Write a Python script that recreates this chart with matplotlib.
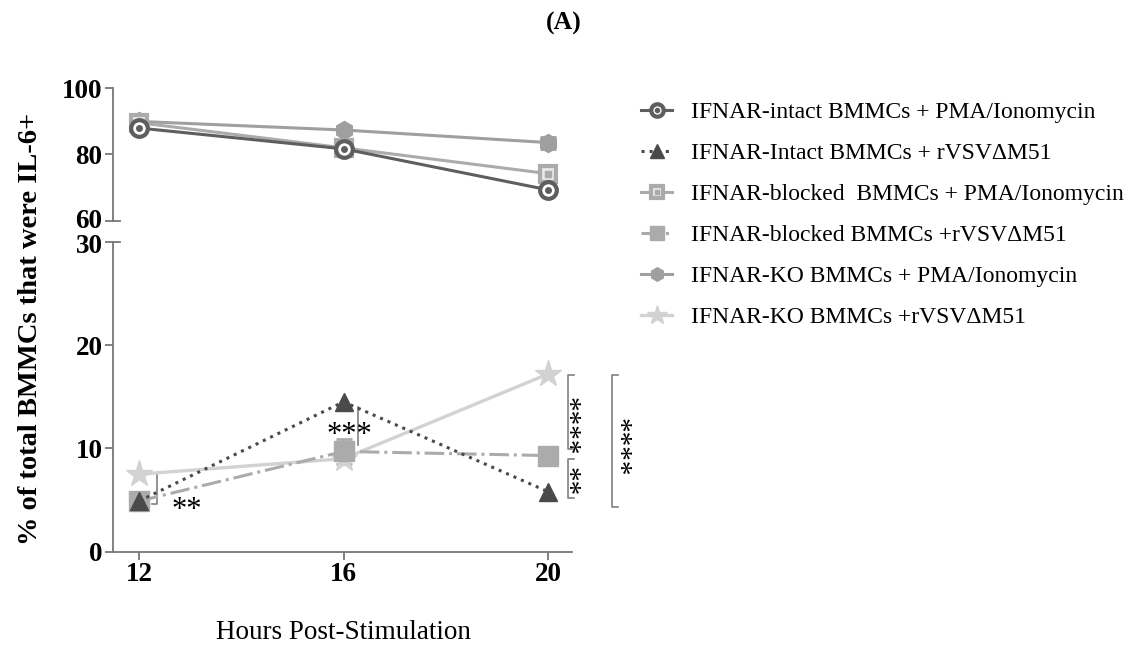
import matplotlib
matplotlib.use("Agg")
import matplotlib.pyplot as plt
import matplotlib.transforms as mtransforms
from matplotlib.legend_handler import HandlerTuple

plt.rcParams['font.family'] = ['Liberation Serif', 'DejaVu Serif']

hours = [12, 16, 20]

intact_pma = [88.0, 81.7, 69.3]
blocked_pma = [89.6, 82.0, 74.2]
ko_pma = [90.0, 87.4, 83.6]
ko_pma_err = [0.5, 0.5, 1.8]

intact_vsv = [4.9, 14.5, 5.8]
blocked_vsv = [4.9, 9.7, 9.3]
blocked_vsv_err = [0.3, 1.2, 0.2]
ko_vsv = [7.5, 9.0, 17.2]

labels = [
    "IFNAR-intact BMMCs + PMA/Ionomycin",
    "IFNAR-Intact BMMCs + rVSVΔM51",
    "IFNAR-blocked  BMMCs + PMA/Ionomycin",
    "IFNAR-blocked BMMCs +rVSVΔM51",
    "IFNAR-KO BMMCs + PMA/Ionomycin",
    "IFNAR-KO BMMCs +rVSVΔM51",
]

c_dark = '#5e5e5e'
c_tri = '#4a4a4a'
c_light = '#ababab'
c_ko = '#9f9f9f'
c_star = '#d2d2d2'

fig = plt.figure(figsize=(11.33, 6.45), dpi=100)
L, R = 0.0997, 0.505
ax_top = fig.add_axes([L, 0.658, R - L, 0.205])
ax_bot = fig.add_axes([L, 0.1447, R - L, 0.4806])

xlim = (11.49, 20.47)
for ax in (ax_top, ax_bot):
    ax.set_xlim(*xlim)
    for s in ('top', 'right'):
        ax.spines[s].set_visible(False)
    for s in ('left', 'bottom'):
        ax.spines[s].set_color('#777777')
        ax.spines[s].set_linewidth(1.3)
    ax.tick_params(colors='#777777', width=1.3, length=6, labelcolor='black',
                   labelsize=19.5, pad=1.5)
    ax.set_facecolor('none')

ax_top.spines['bottom'].set_visible(False)
ax_top.set_ylim(60, 100)
ax_top.set_yticks([60, 80, 100])
ax_top.set_xticks([])
ax_bot.set_ylim(0, 30)
ax_bot.set_yticks([0, 10, 20, 30])
ax_bot.set_xticks(hours)
for ax in (ax_top, ax_bot):
    for lab in ax.get_yticklabels() + ax.get_xticklabels():
        lab.set_fontweight('bold')

# nudge the labels at the axis break apart slightly
for lab, dy in ((ax_top.get_yticklabels()[0], 2), (ax_bot.get_yticklabels()[-1], -2)):
    lab.set_transform(lab.get_transform() +
                      mtransforms.ScaledTranslation(0, dy / 100, fig.dpi_scale_trans))

# break ticks extending right
ax_top.plot([11.49, 11.62], [60, 60], color='#777777', lw=1.3, clip_on=False)
ax_bot.plot([11.49, 11.62], [30, 30], color='#777777', lw=1.3, clip_on=False)

# --- top series
h1, = ax_top.plot(hours, intact_pma, '-', color=c_dark, lw=2.2, marker='o', ms=12,
                  mfc='white', mec=c_dark, mew=3, zorder=5)
h1d, = ax_top.plot(hours, intact_pma, ls='none', marker='o', ms=4, color=c_dark, zorder=6)
h3, = ax_top.plot(hours, blocked_pma, '-', color=c_light, lw=2.2, marker='s', ms=12,
                  mfc='#e8e8e8', mec=c_light, mew=3, zorder=4)
h3d, = ax_top.plot(hours, blocked_pma, ls='none', marker='s', ms=4, color=c_light, zorder=4.5)
ax_top.errorbar(hours, ko_pma, yerr=ko_pma_err, fmt='none', ecolor=c_ko, elinewidth=2,
                capsize=6, capthick=2, zorder=3)
h5, = ax_top.plot(hours, ko_pma, '-', color=c_ko, lw=2.2, marker='h', ms=13,
                  mfc=c_ko, mec=c_ko, zorder=3)

# --- bottom series
h2, = ax_bot.plot(hours, intact_vsv, ':', color=c_tri, lw=2.2, marker='^', ms=13,
                  mfc=c_tri, mec=c_tri, zorder=5)
ax_bot.errorbar(hours, blocked_vsv, yerr=blocked_vsv_err, fmt='none', ecolor=c_light,
                elinewidth=2, capsize=6, capthick=2, zorder=3)
h4, = ax_bot.plot(hours, blocked_vsv, '-.', color=c_light, lw=2.2, marker='s', ms=14,
                  mfc=c_light, mec=c_light, zorder=4)
h6, = ax_bot.plot(hours, ko_vsv, '-', color=c_star, lw=2.4, marker='*', ms=20,
                  mfc=c_star, mec=c_star, zorder=3)

# --- significance annotations
bc = '#808080'
def bracket(x, y0, y1, w):
    ax_bot.plot([x + w, x, x, x + w], [y0, y0, y1, y1], color=bc, lw=1.2, clip_on=False)

bracket(12.36, 7.6, 4.6, -0.1)
ax_bot.text(12.93, 4.0, "**", fontsize=22, ha='center', va='center')
ax_bot.plot([16.28, 16.28], [14.0, 10.3], color=bc, lw=1.2)
ax_bot.text(16.12, 11.2, "***", fontsize=22, ha='center', va='center')
bracket(20.39, 17.1, 9.9, 0.12)
ax_bot.text(20.37, 12.1, "****", fontsize=21, ha='center', va='center', rotation=270,
            clip_on=False)
bracket(20.39, 9.0, 5.2, 0.12)
ax_bot.text(20.37, 6.8, "**", fontsize=21, ha='center', va='center', rotation=270,
            clip_on=False)
bracket(21.25, 17.1, 4.3, 0.12)
ax_bot.text(21.35, 10.1, "****", fontsize=21, ha='center', va='center', rotation=270,
            clip_on=False)

# --- labels
fig.text(0.027, 0.49, "% of total BMMCs that were IL-6+", rotation=90, fontsize=20.5,
         fontweight='bold', ha='center', va='center')
fig.text(0.303, 0.019, "Hours Post-Stimulation", fontsize=19.5, ha='center', va='center')
fig.text(0.498, 0.963, "(A)", fontsize=18.5, fontweight='bold', ha='center', va='center')

# --- legend
handles = [(h1, h1d), h2, (h3, h3d), h4, h5, h6]
leg = fig.legend(handles, labels, loc='upper left', bbox_to_anchor=(0.566, 0.842),
                 frameon=False, fontsize=17, handlelength=1.32, labelspacing=0.82,
                 handletextpad=0.8, markerscale=0.75, borderpad=0, borderaxespad=0,
                 handler_map={tuple: HandlerTuple(ndivide=1, pad=0)})

fig.savefig("out.png", dpi=100)
